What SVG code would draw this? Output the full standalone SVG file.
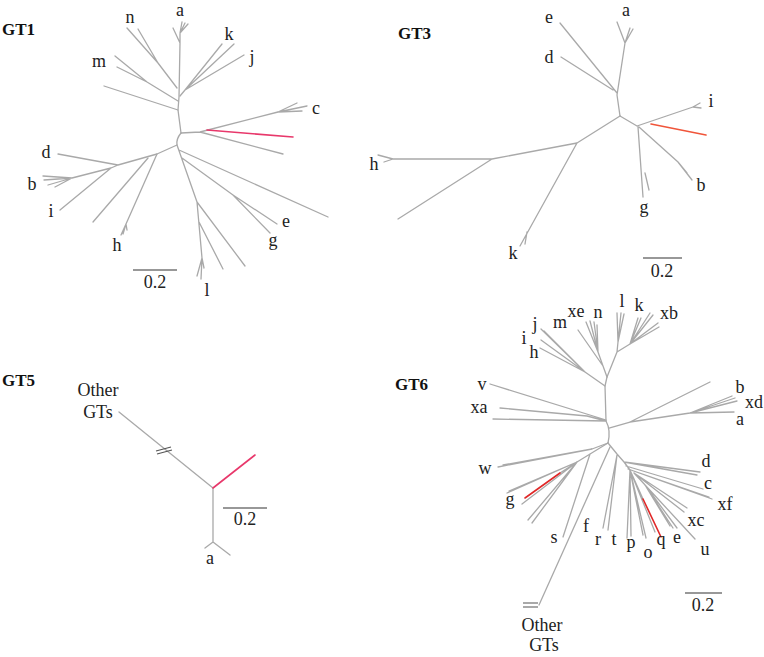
<svg xmlns="http://www.w3.org/2000/svg" width="764" height="657" viewBox="0 0 764 657">
<style>
.br{stroke:#a9a9a9;stroke-width:1.3;fill:none;stroke-linecap:round;stroke-linejoin:round}
.pk{stroke:#e8386b;stroke-width:1.6;fill:none;stroke-linecap:round}
.or{stroke:#f0553a;stroke-width:1.6;fill:none;stroke-linecap:round}
.rd{stroke:#e02828;stroke-width:1.6;fill:none;stroke-linecap:round}
.sc{stroke:#333;stroke-width:1.2;fill:none}
.brk{stroke:#555;stroke-width:1.2;fill:none}
.lb{font-size:18px;fill:#222;text-anchor:middle}
.t{font-weight:bold;font-size:17px;fill:#111}
</style>
<rect width="764" height="657" fill="#fff"/>

<!-- GT1 -->
<g id="gt1">
<g id="gt1-connectors">
<path class="br" d="M181,133 L178,110 L179,97 L180,43 M180,43 L173,28 M180,43 L180,33 L182,22 M180,33 L185,23 M180,33 L188,24"/>
<path class="br" d="M178,110 L104,86 M178,101 L147,82 L115,56 M147,82 L117,67 M177,88 L158,63 L127,28 M158,63 L138,29"/>
<path class="br" d="M180,96 L185,90 L222,44 M185,90 L234,44 M185,90 L244,55"/>
<path class="br" d="M181,133 L200,132 L278,112 L297,103 M278,112 L307,106 M278,112 L302,111 M200,132 L283,154"/>
<path class="pk" d="M207,130 L293,137"/>
<path class="br" d="M181,133 Q176,139 177,145 L157,154 L118,165 L58,154 M118,165 L111,168 L72,178 L43,176 M72,178 L44,180 M72,178 L48,185 M72,178 L55,187 M111,168 L60,210"/>
<path class="br" d="M157,154 L126,224 L121,235 M126,224 L123,234 M126,224 L127,230 M148,158 L93,222"/>
<path class="br" d="M179,150 L328,217 M177,145 L197,202 L202,258 L197,276 M202,258 L201,279 M202,258 L204,268 M197,202 L245,266 M199,222 L223,269 M182,158 L233,195 L277,224 M233,195 L270,233"/>
<path class="sc" d="M133,270 L177,270"/>
</g>
<g id="gt1-labels" font-family="'Liberation Serif', 'Times New Roman', serif">
<text class="t" x="2" y="35">GT1</text>
<text class="lb" x="130" y="23">n</text>
<text class="lb" x="180" y="16">a</text>
<text class="lb" x="229" y="40">k</text>
<text class="lb" x="252" y="63">j</text>
<text class="lb" x="99" y="67">m</text>
<text class="lb" x="316" y="114">c</text>
<text class="lb" x="46" y="158">d</text>
<text class="lb" x="32" y="190">b</text>
<text class="lb" x="51" y="217">i</text>
<text class="lb" x="117" y="251">h</text>
<text class="lb" x="286" y="227">e</text>
<text class="lb" x="273" y="246">g</text>
<text class="lb" x="207" y="296">l</text>
<text class="lb" x="155" y="288">0.2</text>
</g>
</g>

<!-- GT3 -->
<g id="gt3">
<g id="gt3-connectors">
<path class="br" d="M620,116 L617,95 L625,43 L617,22 M625,43 L630,28 M625,43 L633,29 M617,93 L560,23 M613,90 L561,57"/>
<path class="br" d="M620,116 L637,126 L693,107 L700,103 M693,107 L701,108 M639,127 L678,162 L692,180 M678,162 L687,173 M638,127 L643,197 M645,173 L649,190"/>
<path class="or" d="M651,124 L706,135"/>
<path class="br" d="M620,116 L577,143 L492,159 L393,159 L378,155 M393,159 L384,162 M492,159 L398,219 M577,143 L520,246 M527,232 L525,244"/>
<path class="sc" d="M643,258 L682,258"/>
</g>
<g id="gt3-labels" font-family="'Liberation Serif', 'Times New Roman', serif">
<text class="t" x="398" y="39">GT3</text>
<text class="lb" x="549" y="23">e</text>
<text class="lb" x="626" y="16">a</text>
<text class="lb" x="549" y="63">d</text>
<text class="lb" x="711" y="107">i</text>
<text class="lb" x="374" y="170">h</text>
<text class="lb" x="701" y="191">b</text>
<text class="lb" x="644" y="213">g</text>
<text class="lb" x="513" y="259">k</text>
<text class="lb" x="662" y="277">0.2</text>
</g>
</g>

<!-- GT5 -->
<g id="gt5">
<g id="gt5-connectors">
<path class="br" d="M119,412 L213,488 L213,542 L205,548 M213,542 L230,555"/>
<path class="pk" d="M213,488 L255,455"/>
<path class="brk" d="M156,451 L171,447 M157,454 L172,450"/>
<path class="sc" d="M223,508 L267,508"/>
</g>
<g id="gt5-labels" font-family="'Liberation Serif', 'Times New Roman', serif">
<text class="t" x="2" y="386">GT5</text>
<text class="lb" x="98" y="396">Other</text>
<text class="lb" x="98" y="418">GTs</text>
<text class="lb" x="210" y="564">a</text>
<text class="lb" x="245" y="525">0.2</text>
</g>
</g>

<!-- GT6 -->
<g id="gt6">
<g id="gt6-connectors">
<path class="br" d="M607,377 L605,386 L606,421 Q611,430 608,443"/>
<path class="br" d="M605,386 L585,372 L541,329 M585,372 L544,331 M585,372 L541,340 M585,372 L540,348"/>
<path class="br" d="M607,377 L603,366 L578,330 M603,366 L598,352 L586,322 M598,352 L590,321 M598,352 L594,322 M598,352 L597,325"/>
<path class="br" d="M607,377 L617,352 L618,342 L617,313 M618,342 L621,313 M618,342 L624,314 M617,352 L630,344 L638,318 M630,344 L641,318 M630,344 L650,313 M630,344 L653,315 M630,344 L658,323 M630,344 L659,327"/>
<path class="br" d="M606,420 L490,384 M606,421 L587,416 L500,408 M606,421 L493,419"/>
<path class="br" d="M609,428 L630,422 L710,382 M630,422 L690,413 L732,396 M690,413 L735,398 M690,413 L737,401 M690,413 L734,412"/>
<path class="br" d="M608,443 L592,449 L498,467 M592,449 L503,465"/>
<path class="br" d="M608,443 L577,462 L507,493 M577,462 L509,491 M577,462 L560,473 M577,462 L522,504 M577,462 L528,520 M577,462 L532,523 M590,454 L563,537"/>
<path class="rd" d="M560,473 L525,498"/>
<path class="br" d="M610,447 L539,605"/>
<path class="brk" d="M523,603 L538,603 M523,607 L538,607"/>
<path class="br" d="M608,443 L617,454 L624,462 L630,470 M617,455 L603,528 M617,455 L608,530 M624,462 L700,472 M624,462 L697,475 M626,466 L703,489 M628,469 L712,499 M628,469 L709,497"/>
<path class="br" d="M630,470 L627,538 M630,470 L631,536 M630,470 L643,535 M630,470 L646,538 M630,470 L655,532 M630,470 L643,499 M634,473 L695,539 M634,473 L687,508 M634,473 L684,512 M645,485 L673,528 M645,485 L677,528 M645,485 L670,526"/>
<path class="rd" d="M643,499 L661,537"/>
<path class="sc" d="M685,593 L722,593"/>
</g>
<g id="gt6-labels" font-family="'Liberation Serif', 'Times New Roman', serif">
<text class="t" x="395" y="390">GT6</text>
<text class="lb" x="622" y="307">l</text>
<text class="lb" x="639" y="311">k</text>
<text class="lb" x="669" y="319">xb</text>
<text class="lb" x="598" y="318">n</text>
<text class="lb" x="576" y="317">xe</text>
<text class="lb" x="560" y="328">m</text>
<text class="lb" x="535" y="330">j</text>
<text class="lb" x="524" y="344">i</text>
<text class="lb" x="534" y="358">h</text>
<text class="lb" x="482" y="390">v</text>
<text class="lb" x="479" y="413">xa</text>
<text class="lb" x="740" y="393">b</text>
<text class="lb" x="754" y="408">xd</text>
<text class="lb" x="740" y="425">a</text>
<text class="lb" x="485" y="474">w</text>
<text class="lb" x="706" y="467">d</text>
<text class="lb" x="708" y="489">c</text>
<text class="lb" x="725" y="510">xf</text>
<text class="lb" x="696" y="526">xc</text>
<text class="lb" x="705" y="555">u</text>
<text class="lb" x="677" y="543">e</text>
<text class="lb" x="661" y="545">q</text>
<text class="lb" x="648" y="558">o</text>
<text class="lb" x="631" y="548">p</text>
<text class="lb" x="614" y="545">t</text>
<text class="lb" x="598" y="545">r</text>
<text class="lb" x="586" y="532">f</text>
<text class="lb" x="554" y="543">s</text>
<text class="lb" x="510" y="505">g</text>
<text class="lb" x="542" y="631">Other</text>
<text class="lb" x="544" y="651">GTs</text>
<text class="lb" x="703" y="611">0.2</text>
</g>
</g>
</svg>
